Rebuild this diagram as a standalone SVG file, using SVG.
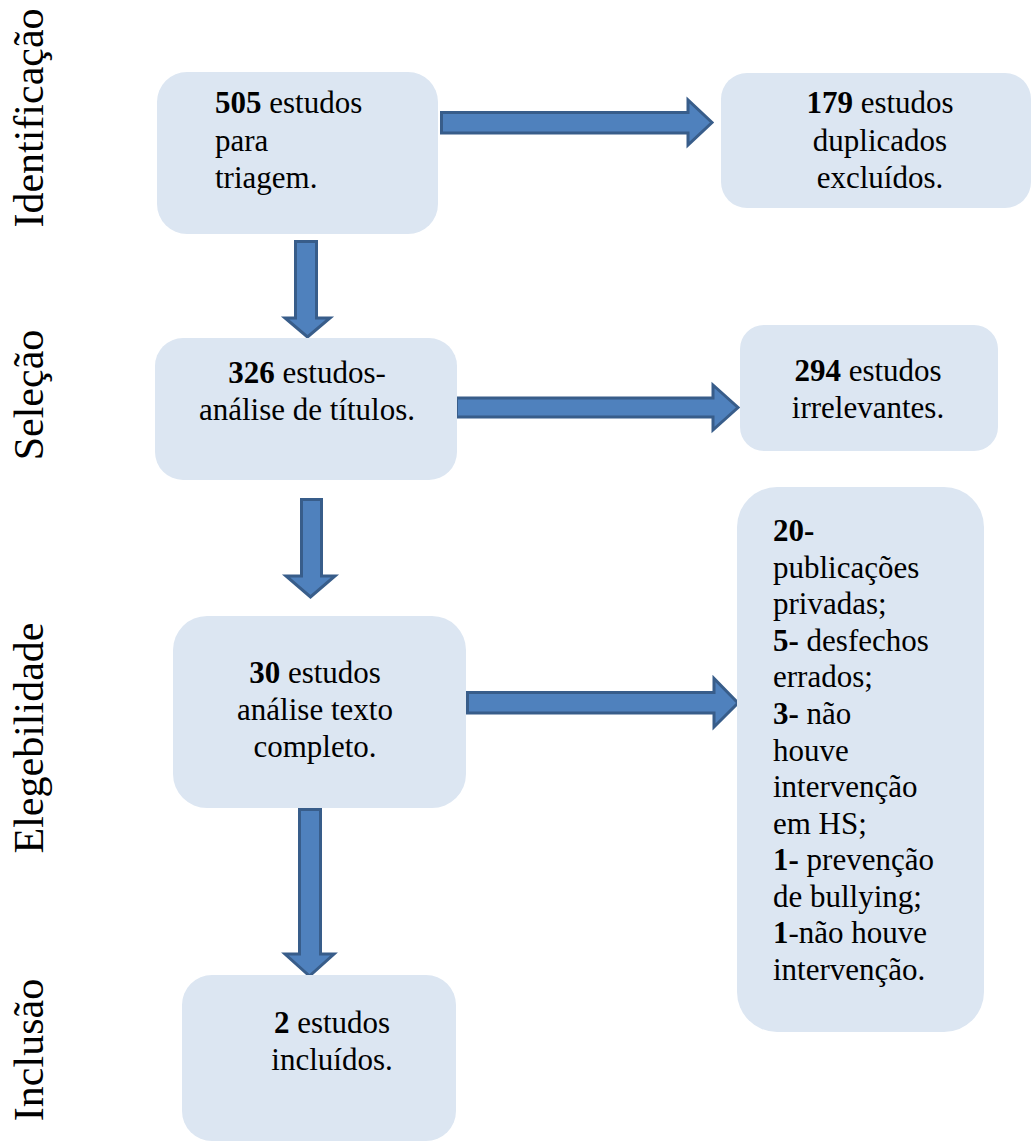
<svg xmlns="http://www.w3.org/2000/svg" width="1033" height="1143" viewBox="0 0 1033 1143">
<style>
.box{fill:#dce6f2;stroke:none}
.arr{fill:#4f81bd;stroke:#385d8a;stroke-width:3;stroke-linejoin:miter}
text{font-family:"Liberation Serif","Times New Roman",serif;fill:#000}
.t{font-size:31px}
.c{text-anchor:middle}
.lab{font-size:42px;text-anchor:middle}
b,.b{font-weight:bold}
</style>
<rect width="1033" height="1143" fill="#ffffff"/>
<g id="labels">
<text class="lab" transform="translate(43,118) rotate(-90)">Identificação</text>
<text class="lab" transform="translate(43,395) rotate(-90)">Seleção</text>
<text class="lab" transform="translate(43,738) rotate(-90)">Elegebilidade</text>
<text class="lab" transform="translate(43,1050) rotate(-90)">Inclusão</text>
</g>
<g id="connectors">
<polygon class="arr" points="441.5,112.5 688,112.5 688,100 712,122.5 688,145 688,133 441.5,133"/>
<polygon class="arr" points="456.5,398 713,398 713,385 738,407.5 713,430 713,417 456.5,417"/>
<polygon class="arr" points="467.5,692.5 714,692.5 714,678.5 738,703 714,727 714,713 467.5,713"/>
<polygon class="arr" points="295.5,241.5 316.5,241.5 316.5,318 330,318 307.5,337 285,318 295.5,318"/>
<polygon class="arr" points="301.5,499.5 321.5,499.5 321.5,576 335,576 310.5,597 286,576 301.5,576"/>
<polygon class="arr" points="299.5,809.5 320.5,809.5 320.5,954 334,954 309.5,976 285,954 299.5,954"/>
</g>
<g id="n1">
<rect class="box" x="157" y="72" width="281" height="162" rx="30"/>
<text class="t" x="215" y="113"><tspan class="b">505</tspan> estudos</text>
<text class="t" x="215" y="151">para</text>
<text class="t" x="215" y="188">triagem.</text>
</g>
<g id="n2">
<rect class="box" x="721" y="73" width="310" height="135" rx="26"/>
<text class="t c" x="880" y="113"><tspan class="b">179</tspan> estudos</text>
<text class="t c" x="880" y="151">duplicados</text>
<text class="t c" x="880" y="188">excluídos.</text>
</g>
<g id="n3">
<rect class="box" x="155" y="338" width="302" height="142" rx="28"/>
<text class="t c" x="307" y="383"><tspan class="b">326</tspan> estudos-</text>
<text class="t c" x="307" y="420">análise de títulos.</text>
</g>
<g id="n4">
<rect class="box" x="740" y="325" width="258" height="126" rx="24"/>
<text class="t c" x="868" y="381"><tspan class="b">294</tspan> estudos</text>
<text class="t c" x="868" y="418">irrelevantes.</text>
</g>
<g id="n5">
<rect class="box" x="173" y="616" width="293" height="192" rx="34"/>
<text class="t c" x="315" y="683"><tspan class="b">30</tspan> estudos</text>
<text class="t c" x="315" y="720">análise texto</text>
<text class="t c" x="315" y="757">completo.</text>
</g>
<g id="n6">
<rect class="box" x="737" y="487" width="247" height="545" rx="40"/>
<text class="t" x="773" y="541" font-weight="bold">20-</text>
<text class="t" x="773" y="578">publicações</text>
<text class="t" x="773" y="614">privadas;</text>
<text class="t" x="773" y="651"><tspan class="b">5-</tspan> desfechos</text>
<text class="t" x="773" y="687">errados;</text>
<text class="t" x="773" y="724"><tspan class="b">3-</tspan> não</text>
<text class="t" x="773" y="761">houve</text>
<text class="t" x="773" y="797">intervenção</text>
<text class="t" x="773" y="834">em HS;</text>
<text class="t" x="773" y="870"><tspan class="b">1-</tspan> prevenção</text>
<text class="t" x="773" y="907">de bullying;</text>
<text class="t" x="773" y="943"><tspan class="b">1</tspan>-não houve</text>
<text class="t" x="773" y="980">intervenção.</text>
</g>
<g id="n7">
<rect class="box" x="182" y="975" width="274" height="166" rx="30"/>
<text class="t c" x="332" y="1033"><tspan class="b">2</tspan> estudos</text>
<text class="t c" x="332" y="1070">incluídos.</text>
</g>
</svg>
